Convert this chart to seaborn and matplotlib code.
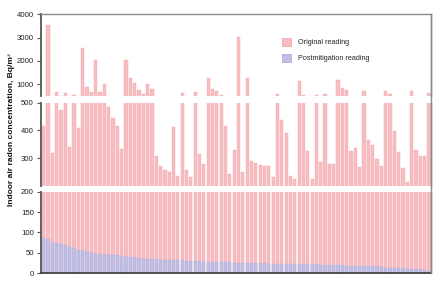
import matplotlib
matplotlib.use("Agg")
import matplotlib.pyplot as plt
import seaborn as sns
import numpy as np
import pandas as pd
from matplotlib.patches import Patch
from matplotlib.lines import Line2D

sns.set_style("white")
plt.rcParams['font.family'] = ['Liberation Sans', 'DejaVu Sans']

# ---- data ----
original = [415, 3520, 320, 680, 472, 600, 339, 510, 408, 2550,
            870, 670, 2050, 670, 985, 486, 446, 416, 331, 2050,
            1250, 1040, 740, 570, 1000, 770, 306, 273, 255, 248,
            411, 234, 620, 257, 231, 640, 313, 277, 1250, 770,
            700, 510, 415, 241, 328, 3040, 248, 1250, 288, 283,
            276, 273, 270, 231, 570, 439, 390, 235, 224, 1150,
            550, 325, 223, 530, 284, 560, 279, 279, 1190, 830,
            740, 326, 337, 267, 700, 367, 346, 296, 272, 700,
            570, 397, 321, 265, 212, 690, 330, 309, 309, 610]
postmitigation = [87, 85, 75, 75, 71, 69, 64, 63, 56, 56,
                  52, 51, 48, 48, 47, 45, 44, 44, 42, 39,
                  39, 39, 37, 36, 35, 35, 34, 33, 33, 33,
                  33, 33, 32, 31, 31, 31, 30, 28, 28, 28,
                  28, 28, 27, 27, 26, 26, 26, 25, 24, 24,
                  24, 24, 23, 23, 23, 23, 23, 23, 23, 23,
                  22, 22, 22, 22, 21, 20, 20, 20, 20, 20,
                  19, 18, 18, 18, 17, 17, 17, 17, 16, 13,
                  13, 13, 13, 12, 10, 10, 10, 10, 9, 6]
homes = list(range(1, len(original) + 1))
series_labels = ["Original reading", "Postmitigation reading"]
ylabel = "Indoor air radon concentration, Bq/m³"

top_ticks = [1000, 2000, 3000, 4000]
mid_ticks = [300, 400, 500]
bot_ticks = [0, 50, 100, 150, 200]

df = pd.DataFrame({"home": homes, "original": original, "post": postmitigation})

PINK = "#F8BDC1"
PINK_E = "#F2A9AE"
BLUE = "#BEBEE6"
BLUE_E = "#ADADDB"
DARK = "#555555"
GREY = "#8a8a8a"

fig = plt.figure(figsize=(4.4, 2.85), dpi=100)
L, W = 0.0925, 0.8877
ax_top = fig.add_axes([L, 0.6642, W, 0.2856])
ax_mid = fig.add_axes([L, 0.3484, W, 0.2912])
ax_bot = fig.add_axes([L, 0.0411, W, 0.2863])

for ax in (ax_top, ax_mid, ax_bot):
    sns.barplot(data=df, x="home", y="original", ax=ax, color=PINK,
                saturation=1, width=0.74, edgecolor=PINK_E, linewidth=0.3,
                errorbar=None)
sns.barplot(data=df, x="home", y="post", ax=ax_bot, color=BLUE,
            saturation=1, width=0.74, edgecolor=BLUE_E, linewidth=0.3,
            errorbar=None)

ax_top.set_ylim(500, 4000)
ax_mid.set_ylim(200, 500)
ax_bot.set_ylim(0, 200)

for ax, ticks in ((ax_top, top_ticks), (ax_mid, mid_ticks), (ax_bot, bot_ticks)):
    ax.set_xlim(-0.69, 89.53)
    ax.set_xticks([])
    ax.set_xlabel("")
    ax.set_ylabel("")
    ax.set_yticks(ticks)
    ax.set_yticklabels([str(t) for t in ticks])
    ax.tick_params(axis="y", left=True, length=3, width=0.8, color=DARK,
                   labelsize=5.6, labelcolor="#222222", pad=2)
    ax.spines["left"].set_color(DARK)
    ax.spines["left"].set_linewidth(1.3)
    ax.spines["right"].set_color(GREY)
    ax.spines["right"].set_linewidth(1.0)
    ax.spines["top"].set_visible(False)
    ax.spines["bottom"].set_visible(False)
    ax.patch.set_alpha(0)

ax_top.spines["top"].set_visible(True)
ax_top.spines["top"].set_color(GREY)
ax_top.spines["top"].set_linewidth(1.0)
ax_bot.spines["bottom"].set_visible(True)
ax_bot.spines["bottom"].set_color("#444444")
ax_bot.spines["bottom"].set_linewidth(1.3)

# continuous right border across the gaps
fig.add_artist(Line2D([L + W, L + W], [0.0411, 0.6642 + 0.2856],
                      color=GREY, lw=1.0, transform=fig.transFigure))

handles = [Patch(facecolor=PINK, edgecolor=PINK_E, linewidth=0.6),
           Patch(facecolor=BLUE, edgecolor=BLUE_E, linewidth=0.6)]
ax_top.legend(handles, series_labels, loc="upper left",
              bbox_to_anchor=(0.617, 0.71), frameon=False, fontsize=5.2,
              borderpad=0, borderaxespad=0, handlelength=1.25,
              handleheight=1.4, handletextpad=1.0, labelspacing=1.0)

fig.text(0.027, 0.544, ylabel, rotation=90, ha="center", va="center",
         fontsize=6, fontweight="bold", color="#111111")

fig.savefig("out.png", dpi=100)
